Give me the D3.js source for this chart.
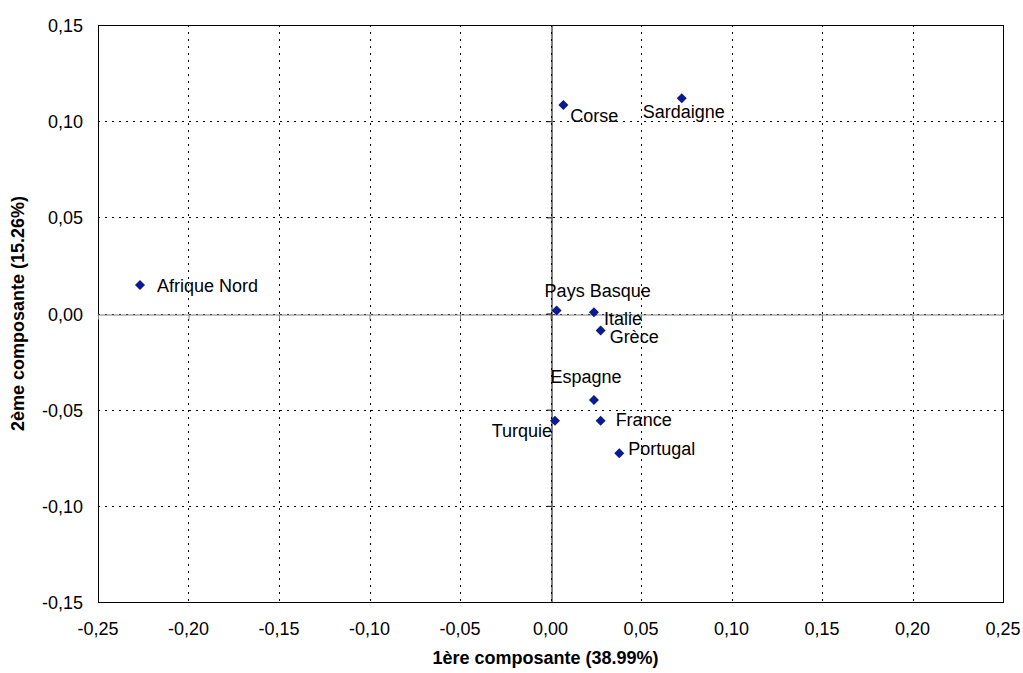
<html>
<head>
<style>
body { margin: 0; background: #fff; }
text { font-family: "Liberation Sans", Arial, sans-serif; }
.grid line { stroke: #000; stroke-dasharray: 2,5; }
.axisTitle { font-size: 18px; font-weight: bold; }
</style>
</head>
<body>
<div id="vis"></div>
<script src="https://cdn.jsdelivr.net/npm/d3@7"></script>
<script>
// data
var regions = ["Afrique Nord", "Corse", "Sardaigne", "Pays Basque", "Italie", "Grèce", "Espagne", "Turquie", "France", "Portugal"];
var comp1 = [-0.2268, 0.0071, 0.0725, 0.0034, 0.0240, 0.0277, 0.0240, 0.0025, 0.0277, 0.0380];
var comp2 = [0.0148, 0.1084, 0.1119, 0.0015, 0.0006, -0.0089, -0.0450, -0.0557, -0.0557, -0.0727];
var xTicks = [-0.25, -0.20, -0.15, -0.10, -0.05, 0.00, 0.05, 0.10, 0.15, 0.20, 0.25];
var yTicks = [-0.15, -0.10, -0.05, 0.00, 0.05, 0.10, 0.15];

// where each label sits relative to its marker (dx, dy, anchor)
var labelPlace = {
	"Afrique Nord": [17, 7, "start"],
	"Corse": [7, 17, "start"],
	"Sardaigne": [2, 20, "middle"],
	"Pays Basque": [41, -14, "middle"],
	"Italie": [10, 13, "start"],
	"Grèce": [9, 12, "start"],
	"Espagne": [-8, -17, "middle"],
	"Turquie": [-3, 16, "end"],
	"France": [15, 5, "start"],
	"Portugal": [9, 2, "start"]
};

var margin = {top: 25, right: 20, bottom: 71, left: 98},
	width = 1023 - margin.left - margin.right,
	height = 673 - margin.top - margin.bottom;

var fr = d3.formatLocale({decimal: ",", thousands: ".", grouping: [3], currency: ["", "€"], minus: "-"});
var fmt = fr.format(".2f");

var x = d3.scaleLinear().domain([-0.25, 0.25]).range([0, width]);
var y = d3.scaleLinear().domain([-0.15, 0.15]).range([height, 0]);

var svg = d3.select("#vis").append("svg")
		.attr("width", 1023)
		.attr("height", 673)
	.append("g")
		.attr("transform", "translate(" + margin.left + "," + margin.top + ")");

// gridlines
var grid = svg.append("g").attr("class", "grid");
grid.selectAll(".vg")
		.data(xTicks)
	.enter().append("line")
		.attr("x1", function(d) { return Math.round(x(d)) + 0.5; })
		.attr("x2", function(d) { return Math.round(x(d)) + 0.5; })
		.attr("y1", 0)
		.attr("y2", height);
grid.selectAll(".hg")
		.data(yTicks)
	.enter().append("line")
		.attr("y1", function(d) { return Math.round(y(d)) + 0.5; })
		.attr("y2", function(d) { return Math.round(y(d)) + 0.5; })
		.attr("x1", 0)
		.attr("x2", width);

// plot border
svg.append("rect")
	.attr("x", 0.5).attr("y", 0.5)
	.attr("width", width).attr("height", height)
	.attr("fill", "none")
	.attr("stroke", "#000");

// axes crossing at zero (ticks only)
var xZero = svg.append("g")
	.attr("transform", "translate(0," + (Math.round(y(0)) + 0.5) + ")")
	.call(d3.axisBottom(x).tickValues(xTicks).tickFormat("").tickSizeInner(5).tickSizeOuter(0));
xZero.select(".domain").attr("stroke", "#808080");
xZero.selectAll(".tick line").attr("stroke", "#808080");

var yZero = svg.append("g")
	.attr("transform", "translate(" + (Math.round(x(0)) + 0.5) + ",0)")
	.call(d3.axisLeft(y).tickValues(yTicks).tickFormat("").tickSizeInner(5).tickSizeOuter(0));

// tick labels
svg.selectAll(".xlab")
		.data(xTicks)
	.enter().append("text")
		.attr("x", function(d) { return x(d); })
		.attr("y", height + 33)
		.attr("text-anchor", "middle")
		.style("font-size", "18px")
		.text(function(d) { return fmt(d); });

svg.selectAll(".ylab")
		.data(yTicks)
	.enter().append("text")
		.attr("x", -15)
		.attr("y", function(d) { return y(d) + 7; })
		.attr("text-anchor", "end")
		.style("font-size", "18px")
		.text(function(d) { return fmt(d); });

// axis titles
svg.append("text")
	.attr("class", "axisTitle")
	.attr("x", width / 2 - 5)
	.attr("y", height + 62)
	.attr("text-anchor", "middle")
	.text("1ère composante (38.99%)");

svg.append("text")
	.attr("class", "axisTitle")
	.attr("transform", "translate(-74," + (height / 2) + ") rotate(-90)")
	.attr("text-anchor", "middle")
	.text("2ème composante (15.26%)");

// points
var pts = regions.map(function(r, i) { return {name: r, a: comp1[i], b: comp2[i]}; });

svg.selectAll(".pt")
		.data(pts)
	.enter().append("path")
		.attr("d", d3.symbol().type(d3.symbolSquare).size(50))
		.attr("transform", function(d) { return "translate(" + x(d.a) + "," + y(d.b) + ") rotate(45)"; })
		.attr("fill", "#0a1a8f");

svg.selectAll(".lab")
		.data(pts)
	.enter().append("text")
		.attr("x", function(d) { return x(d.a) + labelPlace[d.name][0]; })
		.attr("y", function(d) { return y(d.b) + labelPlace[d.name][1]; })
		.attr("text-anchor", function(d) { return labelPlace[d.name][2]; })
		.style("font-size", "18px")
		.text(function(d) { return d.name; });
</script>
</body>
</html>
